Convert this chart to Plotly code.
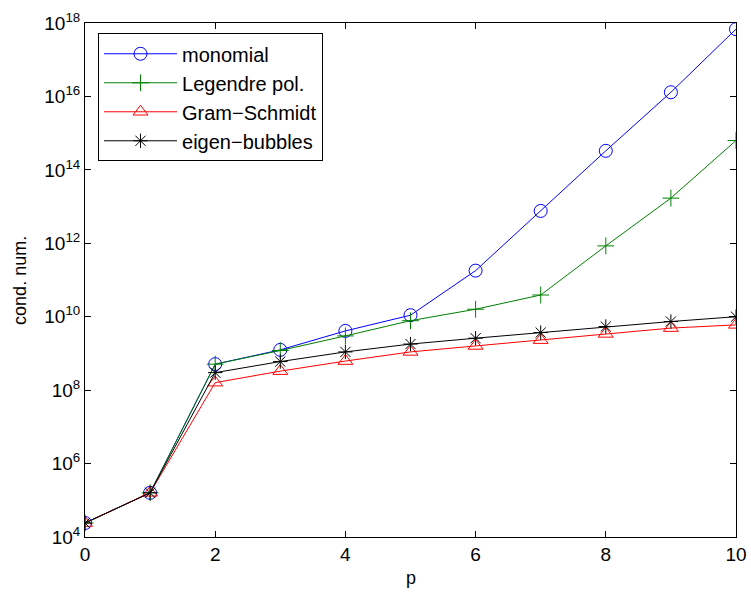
import plotly.graph_objects as go

p = [0, 1, 2, 3, 4, 5, 6, 7, 8, 9, 10]
monomial = [2.4e4, 1.6e5, 5.1e8, 1.25e9, 4.1e9, 1.1e10, 1.8e11, 7.6e12, 3.3e14, 1.3e16, 6.8e17]
legendre = [2.4e4, 1.6e5, 5.1e8, 1.2e9, 3.0e9, 7.8e9, 1.6e10, 3.9e10, 8.5e11, 1.7e13, 6.3e14]
gram_schmidt = [2.4e4, 1.6e5, 1.6e8, 3.3e8, 6.2e8, 1.1e9, 1.6e9, 2.3e9, 3.4e9, 4.9e9, 6.0e9]
eigen_bubbles = [2.4e4, 1.6e5, 3.0e8, 6.0e8, 1.1e9, 1.8e9, 2.6e9, 3.7e9, 5.4e9, 7.4e9, 1.0e10]

series = [
    ("monomial", monomial, "#0000ff", "circle-open", 13),
    ("Legendre pol.", legendre, "#008000", "cross-thin-open", 12),
    ("Gram\u2212Schmidt", gram_schmidt, "#ff0000", "triangle-up-open", 13),
    ("eigen\u2212bubbles", eigen_bubbles, "#000000", "asterisk-open", 12),
]

ytick_exps = [4, 6, 8, 10, 12, 14, 16, 18]
xticks = [0, 2, 4, 6, 8, 10]

fig = go.Figure()
for name, vals, color, sym, sz in series:
    fig.add_trace(go.Scatter(
        x=p, y=vals, name=name, mode="lines+markers",
        line=dict(color=color, width=1),
        marker=dict(symbol=sym, size=sz, color=color, line=dict(color=color, width=1)),
    ))

font = "Liberation Sans, Arial, Helvetica, sans-serif"
fig.update_layout(
    width=751, height=593,
    margin=dict(l=85, r=15, t=23, b=56),
    paper_bgcolor="white", plot_bgcolor="white",
    font=dict(family=font, size=19, color="black"),
    showlegend=True,
    legend=dict(
        x=0.02, y=0.98, xanchor="left", yanchor="top",
        bordercolor="black", borderwidth=1, bgcolor="white",
        font=dict(family=font, size=20, color="black"),
        itemwidth=73, tracegroupgap=0,
    ),
    xaxis=dict(
        range=[0, 10], tickvals=xticks, ticktext=[str(v) for v in xticks],
        ticks="inside", ticklen=6, tickcolor="black", mirror="ticks",
        showline=True, linecolor="black", linewidth=1, showgrid=False, zeroline=False,
        tickfont=dict(size=19), automargin=False,
    ),
    yaxis=dict(
        type="log", range=[4, 18],
        tickvals=[10 ** e for e in ytick_exps],
        ticktext=["10<sup>%d</sup>" % e for e in ytick_exps],
        ticks="inside", ticklen=6, tickcolor="black", mirror="ticks",
        showline=True, linecolor="black", linewidth=1, showgrid=False, zeroline=False,
        tickfont=dict(size=19), automargin=False,
    ),
    annotations=[
        dict(text="p", xref="paper", yref="paper", x=0.5, y=-0.08,
             xanchor="center", yanchor="middle", showarrow=False,
             font=dict(size=18, family=font, color="black")),
        dict(text="cond. num.", xref="paper", yref="paper", x=-0.1, y=0.5,
             xanchor="center", yanchor="middle", showarrow=False, textangle=-90,
             font=dict(size=18, family=font, color="black")),
    ],
)

fig.write_html(
    "out.html",
    config={"displayModeBar": False},
    post_script="document.body.style.margin='0';document.body.style.overflow='hidden';",
)
